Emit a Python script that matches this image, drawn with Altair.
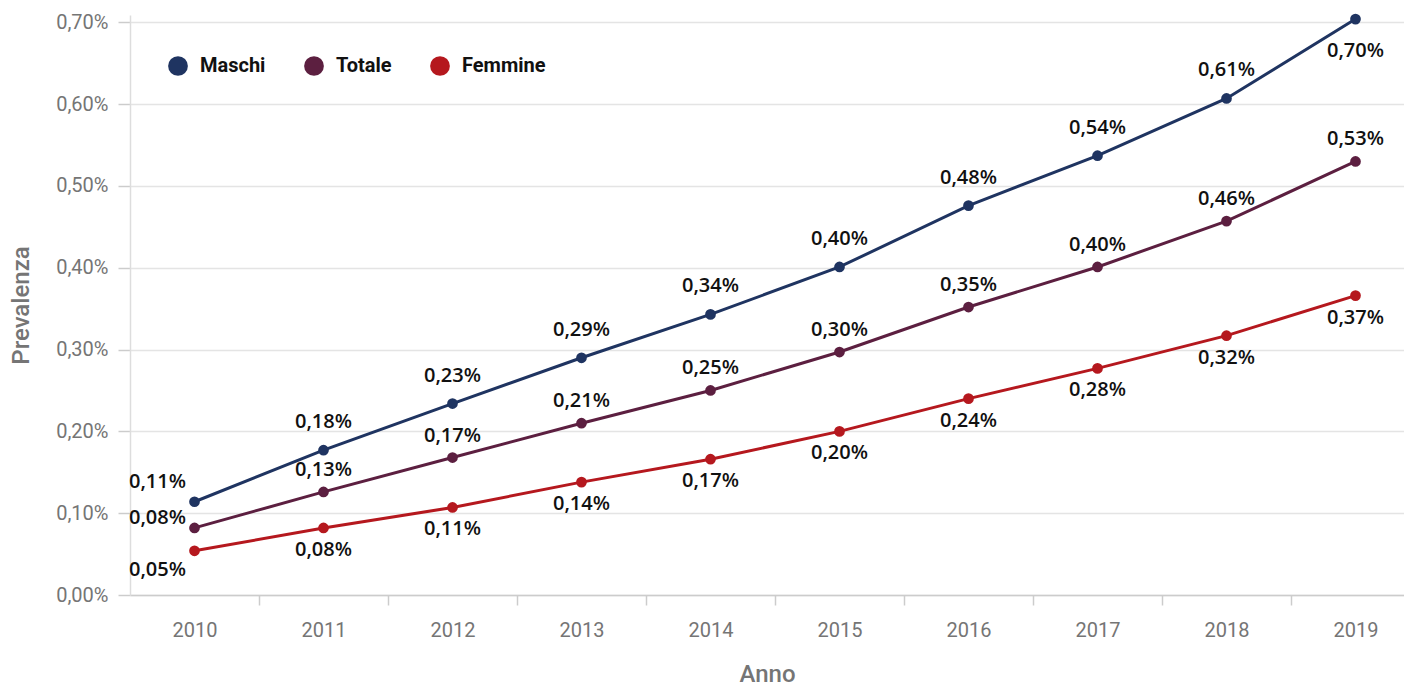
import altair as alt
import pandas as pd

years = [2010, 2011, 2012, 2013, 2014, 2015, 2016, 2017, 2018, 2019]
maschi = [0.114, 0.177, 0.234, 0.290, 0.343, 0.401, 0.476, 0.537, 0.607, 0.704]
totale = [0.082, 0.126, 0.168, 0.210, 0.250, 0.297, 0.352, 0.401, 0.457, 0.530]
femmine = [0.054, 0.082, 0.107, 0.138, 0.166, 0.200, 0.240, 0.277, 0.317, 0.366]
series_names = ["Maschi", "Totale", "Femmine"]
series_colors = ["#1f3461", "#5c1f40", "#b5181e"]
y_ticks = [0.0, 0.1, 0.2, 0.3, 0.4, 0.5, 0.6, 0.7]

rows = []
for name, vals in zip(series_names, [maschi, totale, femmine]):
    for yr, v in zip(years, vals):
        rows.append({"Anno": yr, "Serie": name, "Prevalenza": v})
df = pd.DataFrame(rows)

FONT = "Roboto"
LABEL_FONT = "Open Sans"
GRAY = "#757575"

PLOT_W = 1274
STEP = 129  # pixels per year, as in the reference
x_min = years[0] - 0.5
x_max = x_min + PLOT_W / STEP
x_axis_values = sorted(years + [y + 0.5 for y in years[:-1]])

x_enc = alt.X(
    "Anno:Q",
    scale=alt.Scale(domain=[x_min, x_max], nice=False, zero=False),
    axis=alt.Axis(
        title="Anno", values=x_axis_values, tickSize=10, labelPadding=15,
        titlePadding=22, labelFlush=False, labelOverlap=False,
        labelExpr="datum.value % 1 == 0 ? '' + datum.value : ''",
        tickOpacity={"condition": {"test": "datum.value % 1 == 0", "value": 0}, "value": 1},
    ),
)
y_enc = alt.Y(
    "Prevalenza:Q",
    scale=alt.Scale(domain=[0, 0.709], nice=False),
    axis=alt.Axis(
        title="Prevalenza", values=y_ticks, tickSize=12, labelPadding=10,
        titlePadding=22,
        labelExpr="replace(format(datum.value, '.2f'), '.', ',') + '%'",
    ),
)
color_enc = alt.Color(
    "Serie:N",
    scale=alt.Scale(domain=series_names, range=series_colors),
    legend=alt.Legend(
        title=None, orient="none", direction="horizontal", legendX=38, legendY=41,
        symbolType="circle", symbolSize=390, symbolStrokeWidth=0, symbolOpacity=1,
        labelFontSize=20, labelFontWeight="bold", labelColor="#111111",
        labelFont=FONT, columnPadding=38, labelOffset=12, padding=0,
    ),
)

base = alt.Chart(df).encode(x=x_enc, y=y_enc)

lines = base.mark_line(strokeWidth=3).encode(color=color_enc)
points = base.mark_circle(size=115, opacity=1).encode(
    color=alt.Color("Serie:N", scale=alt.Scale(domain=series_names, range=series_colors), legend=None)
)

label_rules = [
    ("datum.Serie == 'Maschi' && datum.Anno > 2010 && datum.Anno < 2019", 0, -28),
    ("datum.Serie == 'Maschi' && datum.Anno == 2019", 0, 32),
    ("datum.Serie == 'Totale' && datum.Anno > 2010", 0, -22),
    ("datum.Serie == 'Femmine' && datum.Anno > 2010", 0, 22),
    ("datum.Serie == 'Maschi' && datum.Anno == 2010", -37, -20),
    ("datum.Serie == 'Totale' && datum.Anno == 2010", -37, -10),
    ("datum.Serie == 'Femmine' && datum.Anno == 2010", -37, 19),
]

text_layers = []
for cond, dx, dy in label_rules:
    t = (
        base.transform_filter(cond)
        .transform_calculate(lbl="replace(format(datum.Prevalenza, '.2f'), '.', ',') + '%'")
        .mark_text(dx=dx, dy=dy, fontSize=20, fontWeight=600, font=LABEL_FONT, color="#111111")
        .encode(text="lbl:N")
    )
    text_layers.append(t)

chart = (
    alt.layer(lines, points, *text_layers)
    .properties(
        width=PLOT_W, height=580,
        padding={"left": 122, "top": 7, "right": 0, "bottom": 92},
        autosize=alt.AutoSizeParams(type="none"),
    )
    .configure_view(stroke=None)
    .configure_axis(
        labelFont=FONT, titleFont=FONT, labelFontSize=20, titleFontSize=24,
        labelColor=GRAY, titleColor=GRAY, titleFontWeight=500,
        domainColor="#cccccc", tickColor="#cccccc", gridColor="#e4e4e4",
        gridWidth=1.5, domainWidth=1.5, tickWidth=1.5,
    )
    .configure_axisX(grid=False)
    .configure_axisY(grid=True, domainColor="#dddddd")
)

chart.save("out.html", embed_options={"renderer": "svg", "actions": False})
